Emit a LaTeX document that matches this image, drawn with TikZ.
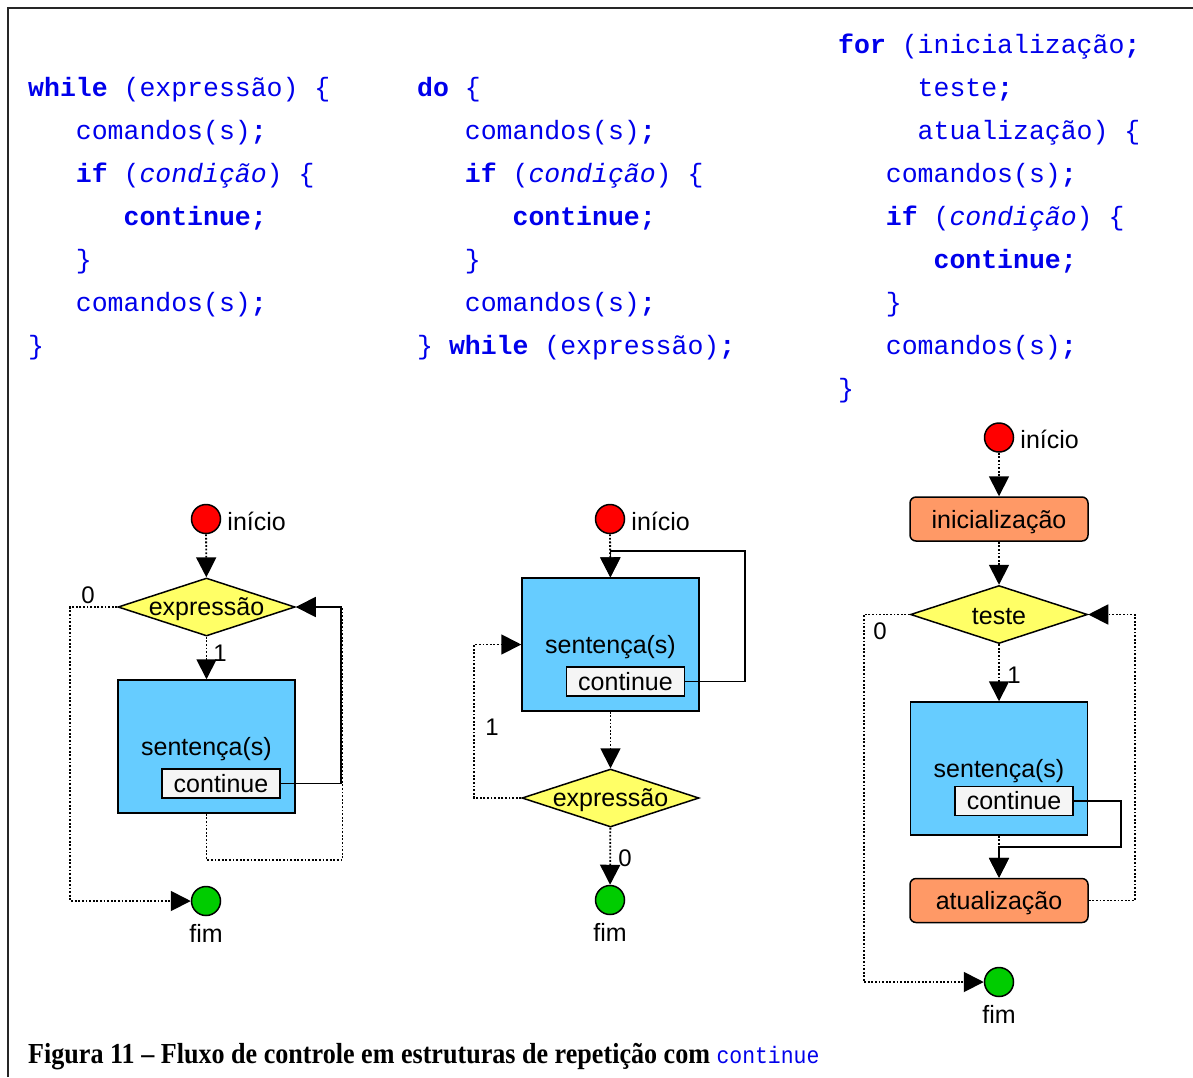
\documentclass[tikz,border=0pt]{standalone}
\usepackage{fontspec}
\usepackage{graphicx}
\usetikzlibrary{shapes.geometric}
\usetikzlibrary{arrows.meta}
\newfontfamily\codefont{Liberation Mono}
\newfontfamily\lblfont{Liberation Sans}
\newfontfamily\capfont{Liberation Serif}
\definecolor{codeblue}{RGB}{0,0,235}
\definecolor{inired}{RGB}{255,0,0}
\definecolor{fimgreen}{RGB}{0,204,0}
\definecolor{testyellow}{RGB}{255,255,102}
\definecolor{blocoblue}{RGB}{102,204,255}
\definecolor{passoorange}{RGB}{255,153,102}
\definecolor{contgray}{RGB}{245,245,245}
\newcommand{\kw}[1]{\textbf{#1}}
\tikzset{
    codeline/.style = {anchor=base west, inner sep=0pt, text=codeblue, font=\codefont\fontsize{26.5}{30}\selectfont},
    inicio/.style = {circle, line width=1.5pt, draw=black, fill=inired, minimum size=29pt, inner sep=0pt},
    fimnode/.style = {circle, line width=1.5pt, draw=black, fill=fimgreen, minimum size=29pt, inner sep=0pt},
    testnode/.style = {diamond, line width=1.5pt, draw=black, fill=testyellow, minimum width=177pt, minimum height=58pt, inner sep=0pt},
    bloco/.style = {rectangle, line width=1.5pt, draw=black, fill=blocoblue, minimum width=177pt, minimum height=133pt, inner sep=0pt, text depth=-1.5pt},
    contbox/.style = {rectangle, line width=1.2pt, draw=black, fill=contgray, minimum width=118pt, minimum height=29pt, inner sep=0pt},
    passo/.style = {rectangle, rounded corners=6pt, line width=1.5pt, draw=black, fill=passoorange, minimum width=178pt, minimum height=44pt, inner sep=0pt, text depth=0pt},
    numlbl/.style = {inner sep=0pt, font=\lblfont\fontsize{24}{24}\selectfont},
    flowd/.style = {line width=1.8pt, dash pattern=on 1.8pt off 1.8pt, -{Triangle[length=20pt,width=20pt]}},
    flowdn/.style = {line width=1.8pt, dash pattern=on 1.8pt off 1.8pt},
    flows/.style = {line width=1.8pt, -{Triangle[length=20pt,width=20pt]}},
    every label/.style = {inner sep=6pt, yshift=-2pt, font=\lblfont\fontsize{25}{25}\selectfont}
}

\begin{document}
\begin{tikzpicture}[x=1pt, y=-1pt, font=\lblfont\fontsize{25}{25}\selectfont]
\useasboundingbox (0,0) rectangle (1193,1077);
\draw[line width=2pt, black!85] (8,1077) -- (8,8) -- (1193,8);
% code
\foreach \i/\dx/\txt in {1/0/{\kw{while} (expressão) \{}, 2/3/{comandos(s)\kw{;}},
    3/3/{\kw{if} (\textit{condição}) \{}, 4/6/{\kw{continue;}}, 5/3/{\}},
    6/3/{comandos(s)\kw{;}}, 7/0/{\}}}
  \node[codeline] (w\i) at (28+\dx*15.9, 53+\i*43) {\txt};
\foreach \i/\dx/\txt in {1/0/{\kw{do} \{}, 2/3/{comandos(s)\kw{;}},
    3/3/{\kw{if} (\textit{condição}) \{}, 4/6/{\kw{continue;}}, 5/3/{\}},
    6/3/{comandos(s)\kw{;}}, 7/0/{\} \kw{while} (expressão)\kw{;}}}
  \node[codeline] (dw\i) at (417+\dx*15.9, 53+\i*43) {\txt};
\foreach \i/\dx/\txt in {0/0/{\kw{for} (inicialização\kw{;}}, 1/5/{teste\kw{;}},
    2/5/{atualização) \{}, 3/3/{comandos(s)\kw{;}},
    4/3/{\kw{if} (\textit{condição}) \{}, 5/6/{\kw{continue;}}, 6/3/{\}},
    7/3/{comandos(s)\kw{;}}, 8/0/{\}}}
  \node[codeline] (f\i) at (838+\dx*15.9, 53+\i*43) {\txt};
%
% while
\node[inicio, label=right:início] at (206, 519) (s1) {};
\node[testnode, label=center:expressão] at (206.5, 607) (d1) {};
\node[bloco] at (206.5, 746.5) (b1) {sentença(s)};
\node[contbox] at (221, 783.5) (c1) {continue};
\node[fimnode, label=below:fim] at (206, 901) (e1) {};
\node[numlbl] at (88, 595) (z1) {0};
\node[numlbl] at (220, 653) (u1) {1};
\draw[flowd] (s1) -- (d1);
\draw[flowd] (d1) -- (b1);
\draw[flowd] (d1.west) -- ++(-47,0) |- (e1.west);
\draw[flowdn] (b1.south) -- ++(0,46) -- ++(136,0) |- (d1.east);
\draw[flows] (c1.east) -- ++(60,0) |- (d1.east);
%
% do-while
\node[inicio, label=right:início] at (610, 519) (s2) {};
\node[bloco] at (610.5, 644.5) (b2) {sentença(s)};
\node[contbox] at (625.5, 681.5) (c2) {continue};
\node[testnode, label=center:expressão] at (610.5, 798) (d2) {};
\node[fimnode, label=below:fim] at (610, 900) (e2) {};
\node[numlbl] at (492, 727) (u2) {1};
\node[numlbl] at (625, 858) (z2) {0};
\draw[flowd] (s2) -- (b2);
\draw[flows] (c2.east) -- ++(60,0) -- ++(0,-130.5) -| (b2.north);
\draw[flowd] (b2) -- (d2);
\draw[flowd] (d2.west) -- ++(-47,0) |- (b2.west);
\draw[flowd] (d2) -- (e2);
%
% for
\node[inicio, label=right:início] at (999, 437.5) (s3) {};
\node[passo] at (999, 519) (i3) {inicialização};
\node[testnode, label=center:teste] at (999, 614.5) (d3) {};
\node[bloco] at (999, 768.5) (b3) {sentença(s)};
\node[contbox] at (1014, 801) (c3) {continue};
\node[passo] at (999, 900.5) (a3) {atualização};
\node[fimnode, label=below:fim] at (999, 982) (e3) {};
\node[numlbl] at (880, 631) (z3) {0};
\node[numlbl] at (1014, 675) (u3) {1};
\draw[flowd] (s3) -- (i3);
\draw[flowd] (i3) -- (d3);
\draw[flowd] (d3) -- (b3);
\draw[flowd] (d3.west) -- ++(-46,0) |- (e3.west);
\draw[flowd] (b3) -- (a3);
\draw[flows] (c3.east) -- ++(47,0) -- ++(0,46) -| (a3.north);
\draw[flowd] (a3.east) -- ++(46,0) |- (d3.east);
%
\node[anchor=base west, inner sep=0pt] at (28, 1063) (cap) {\scalebox{0.9}[1]{\capfont\fontsize{29}{29}\selectfont\bfseries Figura 11 – Fluxo de controle em estruturas de repetição com \textcolor{codeblue}{\codefont\mdseries\fontsize{23.8}{29}\selectfont continue}}};
\end{tikzpicture}
\end{document}
